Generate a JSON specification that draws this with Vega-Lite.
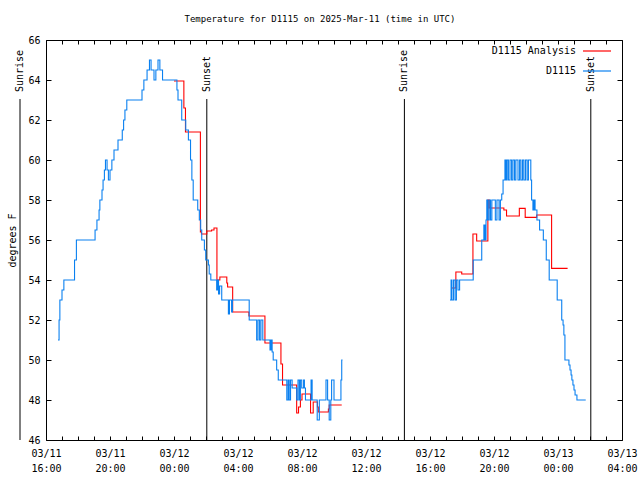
{
  "$schema": "https://vega.github.io/schema/vega-lite/v6.json",
  "width": 576,
  "height": 400,
  "autosize": {"type": "none"},
  "padding": {"left": 46, "top": 40, "right": 18, "bottom": 40},
  "background": "white",
  "title": {"text": "Temperature for D1115 on 2025-Mar-11 (time in UTC)", "font": "DejaVu Sans Mono", "fontSize": 9, "fontWeight": "normal", "offset": 11, "anchor": "middle", "frame": "group", "dx": -14, "color": "black"},
  "config": {
    "view": {"stroke": "black", "strokeWidth": 1},
    "axis": {"labelFont": "DejaVu Sans Mono", "labelFontSize": 10, "labelColor": "black", "titleFont": "DejaVu Sans Mono", "titleFontSize": 10, "titleFontWeight": "normal", "titleColor": "black", "domain": false, "grid": false, "tickColor": "black"}
  },
  "datasets": {
    "obs": [
      {"t": "2025-03-11T16:45:00Z", "v": 51, "series": "D1115", "seg": 1},
      {"t": "2025-03-11T16:49:00Z", "v": 52, "series": "D1115", "seg": 1},
      {"t": "2025-03-11T16:52:00Z", "v": 53, "series": "D1115", "seg": 1},
      {"t": "2025-03-11T17:00:00Z", "v": 53.5, "series": "D1115", "seg": 1},
      {"t": "2025-03-11T17:07:00Z", "v": 54, "series": "D1115", "seg": 1},
      {"t": "2025-03-11T17:47:00Z", "v": 55, "series": "D1115", "seg": 1},
      {"t": "2025-03-11T17:54:00Z", "v": 56, "series": "D1115", "seg": 1},
      {"t": "2025-03-11T19:04:00Z", "v": 56.5, "series": "D1115", "seg": 1},
      {"t": "2025-03-11T19:11:00Z", "v": 57, "series": "D1115", "seg": 1},
      {"t": "2025-03-11T19:19:00Z", "v": 57.5, "series": "D1115", "seg": 1},
      {"t": "2025-03-11T19:22:00Z", "v": 58, "series": "D1115", "seg": 1},
      {"t": "2025-03-11T19:30:00Z", "v": 58.5, "series": "D1115", "seg": 1},
      {"t": "2025-03-11T19:34:00Z", "v": 59, "series": "D1115", "seg": 1},
      {"t": "2025-03-11T19:39:00Z", "v": 59.5, "series": "D1115", "seg": 1},
      {"t": "2025-03-11T19:43:00Z", "v": 60, "series": "D1115", "seg": 1},
      {"t": "2025-03-11T19:49:00Z", "v": 59.5, "series": "D1115", "seg": 1},
      {"t": "2025-03-11T19:54:00Z", "v": 59, "series": "D1115", "seg": 1},
      {"t": "2025-03-11T20:00:00Z", "v": 59.5, "series": "D1115", "seg": 1},
      {"t": "2025-03-11T20:07:00Z", "v": 60, "series": "D1115", "seg": 1},
      {"t": "2025-03-11T20:15:00Z", "v": 60.5, "series": "D1115", "seg": 1},
      {"t": "2025-03-11T20:30:00Z", "v": 61, "series": "D1115", "seg": 1},
      {"t": "2025-03-11T20:46:00Z", "v": 61.5, "series": "D1115", "seg": 1},
      {"t": "2025-03-11T20:51:00Z", "v": 62, "series": "D1115", "seg": 1},
      {"t": "2025-03-11T20:56:00Z", "v": 62.5, "series": "D1115", "seg": 1},
      {"t": "2025-03-11T21:03:00Z", "v": 63, "series": "D1115", "seg": 1},
      {"t": "2025-03-11T22:00:00Z", "v": 63.5, "series": "D1115", "seg": 1},
      {"t": "2025-03-11T22:07:00Z", "v": 64, "series": "D1115", "seg": 1},
      {"t": "2025-03-11T22:19:00Z", "v": 64.5, "series": "D1115", "seg": 1},
      {"t": "2025-03-11T22:28:00Z", "v": 65, "series": "D1115", "seg": 1},
      {"t": "2025-03-11T22:34:00Z", "v": 64.5, "series": "D1115", "seg": 1},
      {"t": "2025-03-11T22:45:00Z", "v": 64, "series": "D1115", "seg": 1},
      {"t": "2025-03-11T22:52:00Z", "v": 64.5, "series": "D1115", "seg": 1},
      {"t": "2025-03-11T23:00:00Z", "v": 65, "series": "D1115", "seg": 1},
      {"t": "2025-03-11T23:07:00Z", "v": 64.5, "series": "D1115", "seg": 1},
      {"t": "2025-03-11T23:17:00Z", "v": 64, "series": "D1115", "seg": 1},
      {"t": "2025-03-12T00:11:00Z", "v": 63.5, "series": "D1115", "seg": 1},
      {"t": "2025-03-12T00:15:00Z", "v": 63, "series": "D1115", "seg": 1},
      {"t": "2025-03-12T00:29:00Z", "v": 62, "series": "D1115", "seg": 1},
      {"t": "2025-03-12T00:44:00Z", "v": 61.5, "series": "D1115", "seg": 1},
      {"t": "2025-03-12T00:54:00Z", "v": 61, "series": "D1115", "seg": 1},
      {"t": "2025-03-12T01:02:00Z", "v": 60, "series": "D1115", "seg": 1},
      {"t": "2025-03-12T01:07:00Z", "v": 59, "series": "D1115", "seg": 1},
      {"t": "2025-03-12T01:12:00Z", "v": 58, "series": "D1115", "seg": 1},
      {"t": "2025-03-12T01:29:00Z", "v": 57.5, "series": "D1115", "seg": 1},
      {"t": "2025-03-12T01:35:00Z", "v": 57, "series": "D1115", "seg": 1},
      {"t": "2025-03-12T01:40:00Z", "v": 56.5, "series": "D1115", "seg": 1},
      {"t": "2025-03-12T01:44:00Z", "v": 56, "series": "D1115", "seg": 1},
      {"t": "2025-03-12T01:54:00Z", "v": 55.5, "series": "D1115", "seg": 1},
      {"t": "2025-03-12T01:59:00Z", "v": 55, "series": "D1115", "seg": 1},
      {"t": "2025-03-12T02:09:00Z", "v": 54.75, "series": "D1115", "seg": 1},
      {"t": "2025-03-12T02:12:00Z", "v": 54.3, "series": "D1115", "seg": 1},
      {"t": "2025-03-12T02:18:00Z", "v": 54, "series": "D1115", "seg": 1},
      {"t": "2025-03-12T02:40:00Z", "v": 53.5, "series": "D1115", "seg": 1},
      {"t": "2025-03-12T02:43:00Z", "v": 54, "series": "D1115", "seg": 1},
      {"t": "2025-03-12T02:47:00Z", "v": 53.3, "series": "D1115", "seg": 1},
      {"t": "2025-03-12T02:51:00Z", "v": 53.7, "series": "D1115", "seg": 1},
      {"t": "2025-03-12T02:59:00Z", "v": 53, "series": "D1115", "seg": 1},
      {"t": "2025-03-12T03:24:00Z", "v": 52.3, "series": "D1115", "seg": 1},
      {"t": "2025-03-12T03:28:00Z", "v": 53, "series": "D1115", "seg": 1},
      {"t": "2025-03-12T03:36:00Z", "v": 52.4, "series": "D1115", "seg": 1},
      {"t": "2025-03-12T03:39:00Z", "v": 53, "series": "D1115", "seg": 1},
      {"t": "2025-03-12T04:42:00Z", "v": 52, "series": "D1115", "seg": 1},
      {"t": "2025-03-12T05:10:00Z", "v": 51, "series": "D1115", "seg": 1},
      {"t": "2025-03-12T05:15:00Z", "v": 52, "series": "D1115", "seg": 1},
      {"t": "2025-03-12T05:21:00Z", "v": 51, "series": "D1115", "seg": 1},
      {"t": "2025-03-12T05:26:00Z", "v": 52, "series": "D1115", "seg": 1},
      {"t": "2025-03-12T05:33:00Z", "v": 51, "series": "D1115", "seg": 1},
      {"t": "2025-03-12T06:00:00Z", "v": 50.5, "series": "D1115", "seg": 1},
      {"t": "2025-03-12T06:04:00Z", "v": 51, "series": "D1115", "seg": 1},
      {"t": "2025-03-12T06:08:00Z", "v": 50.4, "series": "D1115", "seg": 1},
      {"t": "2025-03-12T06:12:00Z", "v": 50, "series": "D1115", "seg": 1},
      {"t": "2025-03-12T06:25:00Z", "v": 49.5, "series": "D1115", "seg": 1},
      {"t": "2025-03-12T06:31:00Z", "v": 49, "series": "D1115", "seg": 1},
      {"t": "2025-03-12T07:03:00Z", "v": 48, "series": "D1115", "seg": 1},
      {"t": "2025-03-12T07:08:00Z", "v": 49, "series": "D1115", "seg": 1},
      {"t": "2025-03-12T07:12:00Z", "v": 48, "series": "D1115", "seg": 1},
      {"t": "2025-03-12T07:17:00Z", "v": 49, "series": "D1115", "seg": 1},
      {"t": "2025-03-12T07:23:00Z", "v": 48.6, "series": "D1115", "seg": 1},
      {"t": "2025-03-12T07:40:00Z", "v": 48, "series": "D1115", "seg": 1},
      {"t": "2025-03-12T07:45:00Z", "v": 49, "series": "D1115", "seg": 1},
      {"t": "2025-03-12T07:50:00Z", "v": 48, "series": "D1115", "seg": 1},
      {"t": "2025-03-12T07:54:00Z", "v": 49, "series": "D1115", "seg": 1},
      {"t": "2025-03-12T07:59:00Z", "v": 48.6, "series": "D1115", "seg": 1},
      {"t": "2025-03-12T08:06:00Z", "v": 49, "series": "D1115", "seg": 1},
      {"t": "2025-03-12T08:09:00Z", "v": 48.6, "series": "D1115", "seg": 1},
      {"t": "2025-03-12T08:13:00Z", "v": 48, "series": "D1115", "seg": 1},
      {"t": "2025-03-12T08:34:00Z", "v": 49, "series": "D1115", "seg": 1},
      {"t": "2025-03-12T08:38:00Z", "v": 48, "series": "D1115", "seg": 1},
      {"t": "2025-03-12T08:57:00Z", "v": 47, "series": "D1115", "seg": 1},
      {"t": "2025-03-12T09:05:00Z", "v": 48, "series": "D1115", "seg": 1},
      {"t": "2025-03-12T09:30:00Z", "v": 49, "series": "D1115", "seg": 1},
      {"t": "2025-03-12T09:36:00Z", "v": 48, "series": "D1115", "seg": 1},
      {"t": "2025-03-12T09:42:00Z", "v": 47, "series": "D1115", "seg": 1},
      {"t": "2025-03-12T09:48:00Z", "v": 48, "series": "D1115", "seg": 1},
      {"t": "2025-03-12T09:51:00Z", "v": 49, "series": "D1115", "seg": 1},
      {"t": "2025-03-12T10:00:00Z", "v": 48, "series": "D1115", "seg": 1},
      {"t": "2025-03-12T10:26:00Z", "v": 49, "series": "D1115", "seg": 1},
      {"t": "2025-03-12T10:29:00Z", "v": 50, "series": "D1115", "seg": 1},
      {"t": "2025-03-12T10:32:00Z", "v": 50, "series": "D1115", "seg": 1},
      {"t": "2025-03-12T17:15:00Z", "v": 53, "series": "D1115", "seg": 2},
      {"t": "2025-03-12T17:19:00Z", "v": 54, "series": "D1115", "seg": 2},
      {"t": "2025-03-12T17:22:00Z", "v": 53, "series": "D1115", "seg": 2},
      {"t": "2025-03-12T17:28:00Z", "v": 54, "series": "D1115", "seg": 2},
      {"t": "2025-03-12T17:34:00Z", "v": 53, "series": "D1115", "seg": 2},
      {"t": "2025-03-12T17:39:00Z", "v": 54, "series": "D1115", "seg": 2},
      {"t": "2025-03-12T17:45:00Z", "v": 53.5, "series": "D1115", "seg": 2},
      {"t": "2025-03-12T17:51:00Z", "v": 54, "series": "D1115", "seg": 2},
      {"t": "2025-03-12T18:42:00Z", "v": 55, "series": "D1115", "seg": 2},
      {"t": "2025-03-12T19:14:00Z", "v": 56, "series": "D1115", "seg": 2},
      {"t": "2025-03-12T19:22:00Z", "v": 56.75, "series": "D1115", "seg": 2},
      {"t": "2025-03-12T19:26:00Z", "v": 56, "series": "D1115", "seg": 2},
      {"t": "2025-03-12T19:30:00Z", "v": 57, "series": "D1115", "seg": 2},
      {"t": "2025-03-12T19:33:00Z", "v": 58, "series": "D1115", "seg": 2},
      {"t": "2025-03-12T19:37:00Z", "v": 57, "series": "D1115", "seg": 2},
      {"t": "2025-03-12T19:42:00Z", "v": 58, "series": "D1115", "seg": 2},
      {"t": "2025-03-12T19:47:00Z", "v": 57, "series": "D1115", "seg": 2},
      {"t": "2025-03-12T19:52:00Z", "v": 58, "series": "D1115", "seg": 2},
      {"t": "2025-03-12T20:05:00Z", "v": 57, "series": "D1115", "seg": 2},
      {"t": "2025-03-12T20:11:00Z", "v": 58, "series": "D1115", "seg": 2},
      {"t": "2025-03-12T20:19:00Z", "v": 57, "series": "D1115", "seg": 2},
      {"t": "2025-03-12T20:24:00Z", "v": 58, "series": "D1115", "seg": 2},
      {"t": "2025-03-12T20:29:00Z", "v": 58.3, "series": "D1115", "seg": 2},
      {"t": "2025-03-12T20:34:00Z", "v": 59, "series": "D1115", "seg": 2},
      {"t": "2025-03-12T20:41:00Z", "v": 60, "series": "D1115", "seg": 2},
      {"t": "2025-03-12T20:45:00Z", "v": 59, "series": "D1115", "seg": 2},
      {"t": "2025-03-12T20:49:00Z", "v": 60, "series": "D1115", "seg": 2},
      {"t": "2025-03-12T20:54:00Z", "v": 59, "series": "D1115", "seg": 2},
      {"t": "2025-03-12T21:00:00Z", "v": 60, "series": "D1115", "seg": 2},
      {"t": "2025-03-12T21:06:00Z", "v": 59, "series": "D1115", "seg": 2},
      {"t": "2025-03-12T21:11:00Z", "v": 60, "series": "D1115", "seg": 2},
      {"t": "2025-03-12T21:17:00Z", "v": 59, "series": "D1115", "seg": 2},
      {"t": "2025-03-12T21:22:00Z", "v": 60, "series": "D1115", "seg": 2},
      {"t": "2025-03-12T21:30:00Z", "v": 59, "series": "D1115", "seg": 2},
      {"t": "2025-03-12T21:36:00Z", "v": 60, "series": "D1115", "seg": 2},
      {"t": "2025-03-12T21:41:00Z", "v": 59, "series": "D1115", "seg": 2},
      {"t": "2025-03-12T21:47:00Z", "v": 60, "series": "D1115", "seg": 2},
      {"t": "2025-03-12T21:52:00Z", "v": 59, "series": "D1115", "seg": 2},
      {"t": "2025-03-12T21:58:00Z", "v": 60, "series": "D1115", "seg": 2},
      {"t": "2025-03-12T22:04:00Z", "v": 59, "series": "D1115", "seg": 2},
      {"t": "2025-03-12T22:09:00Z", "v": 60, "series": "D1115", "seg": 2},
      {"t": "2025-03-12T22:18:00Z", "v": 59, "series": "D1115", "seg": 2},
      {"t": "2025-03-12T22:21:00Z", "v": 58, "series": "D1115", "seg": 2},
      {"t": "2025-03-12T22:26:00Z", "v": 57.5, "series": "D1115", "seg": 2},
      {"t": "2025-03-12T22:30:00Z", "v": 58, "series": "D1115", "seg": 2},
      {"t": "2025-03-12T22:34:00Z", "v": 57.5, "series": "D1115", "seg": 2},
      {"t": "2025-03-12T22:41:00Z", "v": 57, "series": "D1115", "seg": 2},
      {"t": "2025-03-12T22:51:00Z", "v": 56.5, "series": "D1115", "seg": 2},
      {"t": "2025-03-12T23:05:00Z", "v": 56, "series": "D1115", "seg": 2},
      {"t": "2025-03-12T23:16:00Z", "v": 55, "series": "D1115", "seg": 2},
      {"t": "2025-03-12T23:27:00Z", "v": 54, "series": "D1115", "seg": 2},
      {"t": "2025-03-12T23:57:00Z", "v": 53, "series": "D1115", "seg": 2},
      {"t": "2025-03-13T00:14:00Z", "v": 52, "series": "D1115", "seg": 2},
      {"t": "2025-03-13T00:19:00Z", "v": 51.75, "series": "D1115", "seg": 2},
      {"t": "2025-03-13T00:22:00Z", "v": 51.25, "series": "D1115", "seg": 2},
      {"t": "2025-03-13T00:26:00Z", "v": 50, "series": "D1115", "seg": 2},
      {"t": "2025-03-13T00:41:00Z", "v": 49.75, "series": "D1115", "seg": 2},
      {"t": "2025-03-13T00:45:00Z", "v": 49.5, "series": "D1115", "seg": 2},
      {"t": "2025-03-13T00:49:00Z", "v": 49.25, "series": "D1115", "seg": 2},
      {"t": "2025-03-13T00:52:00Z", "v": 49, "series": "D1115", "seg": 2},
      {"t": "2025-03-13T00:56:00Z", "v": 48.75, "series": "D1115", "seg": 2},
      {"t": "2025-03-13T01:00:00Z", "v": 48.5, "series": "D1115", "seg": 2},
      {"t": "2025-03-13T01:04:00Z", "v": 48.25, "series": "D1115", "seg": 2},
      {"t": "2025-03-13T01:11:00Z", "v": 48, "series": "D1115", "seg": 2},
      {"t": "2025-03-13T01:44:00Z", "v": 48, "series": "D1115", "seg": 2},
      {"t": "2025-03-12T00:00:00Z", "v": 63.95, "series": "D1115 Analysis", "seg": 1},
      {"t": "2025-03-12T00:37:00Z", "v": 62.6, "series": "D1115 Analysis", "seg": 1},
      {"t": "2025-03-12T00:43:00Z", "v": 61.4, "series": "D1115 Analysis", "seg": 1},
      {"t": "2025-03-12T01:39:00Z", "v": 56.4, "series": "D1115 Analysis", "seg": 1},
      {"t": "2025-03-12T01:43:00Z", "v": 56.3, "series": "D1115 Analysis", "seg": 1},
      {"t": "2025-03-12T02:03:00Z", "v": 56.45, "series": "D1115 Analysis", "seg": 1},
      {"t": "2025-03-12T02:21:00Z", "v": 56.5, "series": "D1115 Analysis", "seg": 1},
      {"t": "2025-03-12T02:30:00Z", "v": 56.6, "series": "D1115 Analysis", "seg": 1},
      {"t": "2025-03-12T02:41:00Z", "v": 54.0, "series": "D1115 Analysis", "seg": 1},
      {"t": "2025-03-12T02:52:00Z", "v": 54.15, "series": "D1115 Analysis", "seg": 1},
      {"t": "2025-03-12T03:18:00Z", "v": 53.85, "series": "D1115 Analysis", "seg": 1},
      {"t": "2025-03-12T03:21:00Z", "v": 53.65, "series": "D1115 Analysis", "seg": 1},
      {"t": "2025-03-12T03:40:00Z", "v": 52.4, "series": "D1115 Analysis", "seg": 1},
      {"t": "2025-03-12T04:41:00Z", "v": 52.2, "series": "D1115 Analysis", "seg": 1},
      {"t": "2025-03-12T05:41:00Z", "v": 50.85, "series": "D1115 Analysis", "seg": 1},
      {"t": "2025-03-12T06:41:00Z", "v": 49.8, "series": "D1115 Analysis", "seg": 1},
      {"t": "2025-03-12T06:47:00Z", "v": 48.75, "series": "D1115 Analysis", "seg": 1},
      {"t": "2025-03-12T07:40:00Z", "v": 47.35, "series": "D1115 Analysis", "seg": 1},
      {"t": "2025-03-12T07:47:00Z", "v": 47.65, "series": "D1115 Analysis", "seg": 1},
      {"t": "2025-03-12T07:54:00Z", "v": 48.0, "series": "D1115 Analysis", "seg": 1},
      {"t": "2025-03-12T08:00:00Z", "v": 48.3, "series": "D1115 Analysis", "seg": 1},
      {"t": "2025-03-12T08:32:00Z", "v": 47.35, "series": "D1115 Analysis", "seg": 1},
      {"t": "2025-03-12T08:42:00Z", "v": 47.9, "series": "D1115 Analysis", "seg": 1},
      {"t": "2025-03-12T08:58:00Z", "v": 47.65, "series": "D1115 Analysis", "seg": 1},
      {"t": "2025-03-12T09:01:00Z", "v": 47.4, "series": "D1115 Analysis", "seg": 1},
      {"t": "2025-03-12T09:39:00Z", "v": 47.55, "series": "D1115 Analysis", "seg": 1},
      {"t": "2025-03-12T09:42:00Z", "v": 47.75, "series": "D1115 Analysis", "seg": 1},
      {"t": "2025-03-12T10:29:00Z", "v": 47.75, "series": "D1115 Analysis", "seg": 1},
      {"t": "2025-03-12T17:19:00Z", "v": 53.6, "series": "D1115 Analysis", "seg": 2},
      {"t": "2025-03-12T17:37:00Z", "v": 54.4, "series": "D1115 Analysis", "seg": 2},
      {"t": "2025-03-12T17:59:00Z", "v": 54.3, "series": "D1115 Analysis", "seg": 2},
      {"t": "2025-03-12T18:41:00Z", "v": 56.3, "series": "D1115 Analysis", "seg": 2},
      {"t": "2025-03-12T18:55:00Z", "v": 55.95, "series": "D1115 Analysis", "seg": 2},
      {"t": "2025-03-12T19:37:00Z", "v": 58.0, "series": "D1115 Analysis", "seg": 2},
      {"t": "2025-03-12T19:42:00Z", "v": 57.6, "series": "D1115 Analysis", "seg": 2},
      {"t": "2025-03-12T20:37:00Z", "v": 57.5, "series": "D1115 Analysis", "seg": 2},
      {"t": "2025-03-12T20:47:00Z", "v": 57.2, "series": "D1115 Analysis", "seg": 2},
      {"t": "2025-03-12T21:35:00Z", "v": 57.58, "series": "D1115 Analysis", "seg": 2},
      {"t": "2025-03-12T21:57:00Z", "v": 57.13, "series": "D1115 Analysis", "seg": 2},
      {"t": "2025-03-12T22:40:00Z", "v": 57.25, "series": "D1115 Analysis", "seg": 2},
      {"t": "2025-03-12T23:36:00Z", "v": 54.58, "series": "D1115 Analysis", "seg": 2},
      {"t": "2025-03-13T00:36:00Z", "v": 54.58, "series": "D1115 Analysis", "seg": 2}
    ],
    "sun": [
      {"t": "2025-03-11T14:22:30Z", "label": "Sunrise"},
      {"t": "2025-03-12T02:03:00Z", "label": "Sunset"},
      {"t": "2025-03-12T14:24:00Z", "label": "Sunrise"},
      {"t": "2025-03-13T02:03:00Z", "label": "Sunset"}
    ]
  },
  "resolve": {"axis": {"x": "independent", "y": "independent"}},
  "layer": [
    {
      "data": {"name": "sun"},
      "mark": {"type": "rule", "color": "black", "strokeWidth": 1, "clip": false},
      "encoding": {
        "x": {"field": "t", "type": "temporal", "axis": null},
        "y": {"datum": 46, "type": "quantitative", "axis": null},
        "y2": {"datum": 63.05}
      }
    },
    {
      "data": {"name": "sun"},
      "mark": {"type": "text", "angle": 270, "align": "left", "baseline": "middle", "dx": 7, "font": "DejaVu Sans Mono", "fontSize": 10, "color": "black", "clip": false},
      "encoding": {
        "x": {"field": "t", "type": "temporal", "axis": null},
        "y": {"datum": 63.05, "type": "quantitative", "axis": null},
        "text": {"field": "label"}
      }
    },
    {
      "data": {"name": "obs"},
      "transform": [{"filter": "datum.series == 'D1115 Analysis'"}],
      "mark": {"type": "line", "interpolate": "step-after", "strokeWidth": 1.1},
      "encoding": {
        "x": {"field": "t", "type": "temporal",
          "scale": {"domain": [1741708800000, 1741838400000]},
          "axis": {"orient": "top", "title": null, "labels": false, "tickCount": 36, "tickSize": -4}},
        "y": {"field": "v", "type": "quantitative", "scale": {"domain": [46, 66], "nice": false, "zero": false},
          "axis": {"orient": "right", "title": null, "labels": false, "values": [46, 48, 50, 52, 54, 56, 58, 60, 62, 64, 66], "tickSize": -5}},
        "color": {"field": "series", "type": "nominal",
          "scale": {"domain": ["D1115 Analysis", "D1115"], "range": ["#ff0000", "#0a80f0"]},
          "legend": {"orient": "none", "legendX": 536, "legendY": -4, "title": null, "symbolType": "stroke", "symbolStrokeWidth": 1.2, "symbolSize": 784, "labelFont": "DejaVu Sans Mono", "labelFontSize": 10, "labelColor": "black", "labelAlign": "right", "labelOffset": -36, "rowPadding": -20, "padding": 0}},
        "detail": {"field": "seg", "type": "nominal"}
      }
    },
    {
      "data": {"name": "obs"},
      "transform": [{"filter": "datum.series == 'D1115'"}],
      "mark": {"type": "line", "interpolate": "step-after", "strokeWidth": 1.1},
      "encoding": {
        "x": {"field": "t", "type": "temporal",
          "scale": {"domain": [1741708800000, 1741838400000]},
          "axis": {"orient": "bottom", "title": null, "tickCount": 36,
            "labelExpr": "utchours(datum.value) % 4 == 0 ? [utcFormat(datum.value, '%m/%d'), utcFormat(datum.value, '%H:%M')] : ''",
            "labelOverlap": false, "labelFlush": false, "labelBaseline": "top", "labelLineHeight": 15, "labelPadding": 12,
            "tickSize": -4}},
        "y": {"field": "v", "type": "quantitative", "scale": {"domain": [46, 66], "nice": false, "zero": false},
          "axis": {"orient": "left", "title": "degrees F", "values": [46, 48, 50, 52, 54, 56, 58, 60, 62, 64, 66], "tickSize": -5, "labelPadding": 11, "titlePadding": 10}},
        "color": {"field": "series", "type": "nominal"},
        "detail": {"field": "seg", "type": "nominal"}
      }
    }
  ]
}
